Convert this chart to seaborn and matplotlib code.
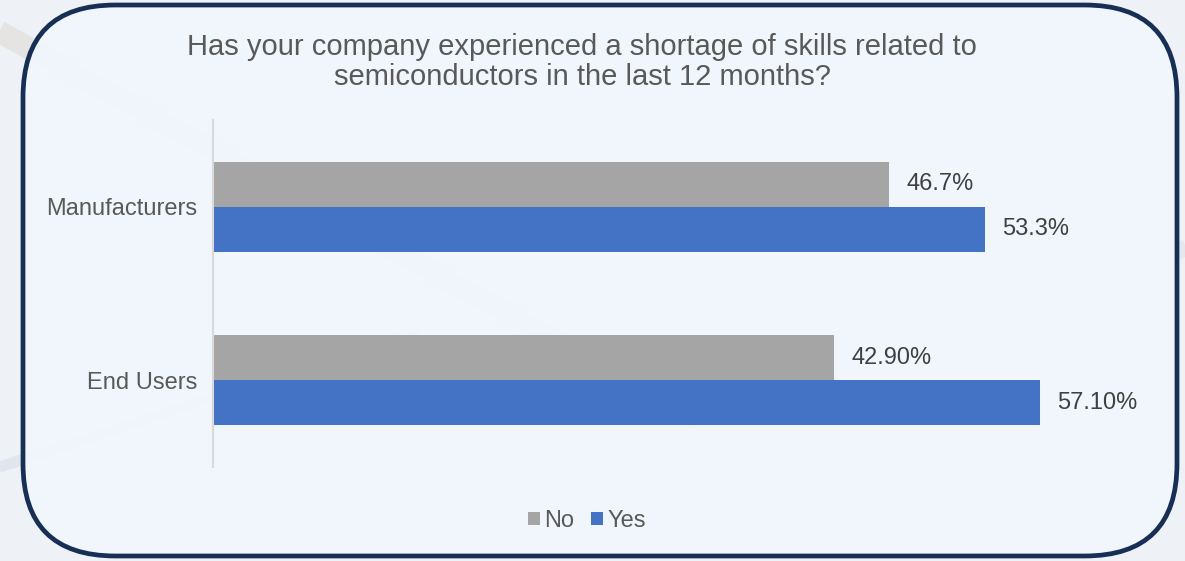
import matplotlib
matplotlib.use("Agg")
import matplotlib.pyplot as plt
from matplotlib.patches import FancyBboxPatch, Patch
import seaborn as sns
import pandas as pd

# Survey results
groups = ["Manufacturers", "End Users"]
answers = ["No", "Yes"]
no_values = [46.7, 42.9]
yes_values = [53.3, 57.1]
no_labels = ["46.7%", "42.90%"]
yes_labels = ["53.3%", "57.10%"]
title = "Has your company experienced a shortage of skills related to\nsemiconductors in the last 12 months?"

colors = {"No": "#A5A5A5", "Yes": "#4472C4"}

df = pd.DataFrame({
    "group": groups * 2,
    "answer": ["No"] * len(groups) + ["Yes"] * len(groups),
    "value": no_values + yes_values,
})

sns.set_theme(style="white")
plt.rcParams["font.family"] = ["Liberation Sans", "DejaVu Sans"]

W, H = 1185, 561
fig = plt.figure(figsize=(W / 100, H / 100), dpi=100)
fig.patch.set_facecolor("#EEF2F7")

# soft backdrop streaks
bg = fig.add_axes([0, 0, 1, 1], zorder=-5)
bg.set_xlim(0, W)
bg.set_ylim(H, 0)
bg.axis("off")
for (x0, y0, x1, y1, c, a, lw) in [
    (-40, 10, 700, 420, "#D8CCC0", 0.35, 16),
    (-40, 480, 420, 330, "#C8CEE0", 0.35, 8),
    (760, 420, 1230, 230, "#D0D4E0", 0.35, 12),
]:
    bg.plot([x0, x1], [y0, y1], color=c, alpha=a, lw=lw, solid_capstyle="butt")

# rounded frame with a slightly translucent fill
frame = FancyBboxPatch((23 / W, 5 / H), (1177 - 23) / W, (556 - 5) / H,
                       boxstyle="round,pad=0,rounding_size=0.078",
                       transform=fig.transFigure, facecolor=(0.945, 0.968, 0.992, 0.94),
                       edgecolor="#172E55", linewidth=3.4, zorder=-1,
                       mutation_aspect=W / H)
fig.patches.append(frame)

ax = fig.add_axes([213 / W, 1 - 467 / H, (1140 - 213) / W, (467 - 120) / H])
ax.set_facecolor("none")

sns.barplot(data=df, y="group", x="value", hue="answer", order=groups,
            hue_order=answers, palette=colors, orient="h", width=0.52,
            ax=ax, legend=False, saturation=1)

for cont, labs in zip(ax.containers, [no_labels, yes_labels]):
    for bar in cont:
        bar.set_edgecolor("none")
    ax.bar_label(cont, labels=labs, padding=12, fontsize=17, color="#404040")

ax.set_xlim(0, 64)
ax.set_ylim(1.5, -0.5)
ax.set_xlabel("")
ax.set_ylabel("")
ax.set_xticks([])
ax.tick_params(axis="y", length=0, pad=11, labelsize=17, labelcolor="#595959")
for s in ["top", "right", "bottom"]:
    ax.spines[s].set_visible(False)
ax.spines["left"].set_color("#D9D9D9")
ax.spines["left"].set_linewidth(1.5)

fig.text(582 / W, 1 - 62 / H, title, ha="center", va="center", fontsize=21,
         color="#595959", linespacing=1.08)

handles = [Patch(facecolor=colors[a], edgecolor="none", label=a) for a in answers]
fig.legend(handles=handles, loc="center", bbox_to_anchor=(587 / W, 1 - 521 / H),
           ncol=2, frameon=False, fontsize=17, handlelength=0.5,
           handleheight=0.5, handletextpad=0.2, columnspacing=0.7,
           labelcolor="#595959")

fig.savefig("out.png", dpi=100, facecolor=fig.get_facecolor())
